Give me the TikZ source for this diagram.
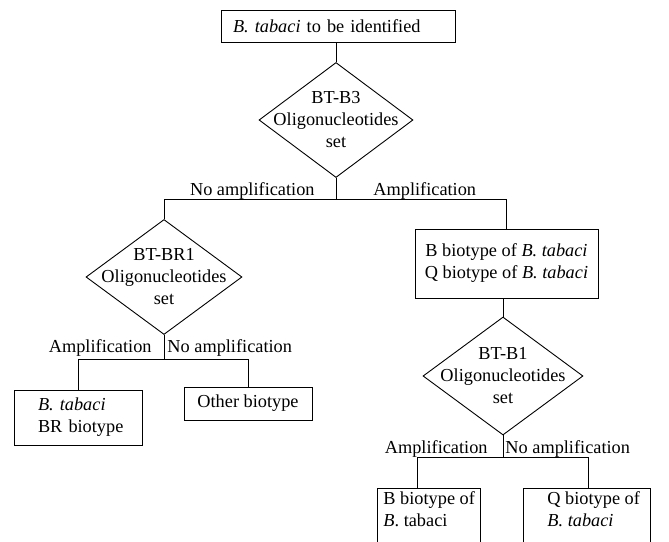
\documentclass[tikz,border=0pt]{standalone}
\usepackage{fontspec}
\setmainfont{Liberation Serif}
\usetikzlibrary{shapes.geometric}
\begin{document}
\begin{tikzpicture}[x=1pt,y=-1pt, line width=0.9pt,
  every node/.style={font=\fontsize{18.3}{22}\selectfont},
  box/.style={draw, rectangle, inner sep=0pt},
  dia/.style={draw, diamond, inner sep=-25pt, align=center},
  lab/.style={inner sep=0pt}]
\useasboundingbox (0,0) rectangle (669,541);
\clip (0,0) rectangle (669,541);

% nodes
\node[box, minimum width=234pt, minimum height=32pt, inner xsep=12pt, text width=210pt, align=left] (top) at (338,26) {\textit{B. tabaci} to be identified};
\node[dia, minimum width=154pt, minimum height=115pt] (d1) at (336,120) {BT-B3\\Oligonucleotides\\set};
\node[dia, minimum width=156pt, minimum height=115pt] (d2) at (164,277) {BT-BR1\\Oligonucleotides\\set};
\node[box, minimum width=183pt, minimum height=69pt, align=center] (bq) at (506.5,263.5) {B biotype of \textit{B. tabaci}\\Q biotype of \textit{B. tabaci}};
\node[dia, minimum width=160pt, minimum height=118pt] (d3) at (503,376) {BT-B1\\Oligonucleotides\\set};
\node[box, minimum width=128pt, minimum height=55pt, inner xsep=24pt, text width=80pt, align=left] (brb) at (78,417.5) {\textit{B. tabaci}\\\mbox{BR biotype}};
\node[box, minimum width=128pt, minimum height=33pt, align=center] (oth) at (248,403.5) {Other biotype};
\node[box, anchor=north west, minimum width=103pt, minimum height=90pt] (bl) at (377,488) {};
\node[lab, anchor=north west, align=left] (blt) at (383,491) {B biotype of\\\textit{B}. tabaci};
\node[box, anchor=north west, minimum width=127pt, minimum height=90pt] (br) at (523,488) {};
\node[lab, anchor=north west, align=left] (brt) at (547,491) {Q biotype of\\\textit{B. tabaci}};

% connectors
\draw (d1.north) -- (d1.north |- top.south);
\draw (d1.south) -- ++(0,21) coordinate (j1);
\draw (d2.north) |- (j1) -| (bq.north);
\draw (d3.north) -- (d3.north |- bq.south);
\draw (d2.south) -- ++(0,24) coordinate (j2);
\draw (brb.north) |- (j2) -| (oth.north);
\draw (d3.south) -- ++(0,22) coordinate (j3);
\draw ([xshift=-11.5pt]bl.north) |- (j3) -| ([xshift=1.5pt]br.north);

% labels
\node[lab, anchor=base east] (l1) at (315,195) {No amplification};
\node[lab, anchor=base west] (l2) at (373,195) {Amplification};
\node[lab, anchor=base east] (l3) at (152,352) {Amplification};
\node[lab, anchor=base west] (l4) at (167,352) {No amplification};
\node[lab, anchor=base east] (l5) at (488,453) {Amplification};
\node[lab, anchor=base west] (l6) at (505,453) {No amplification};
\end{tikzpicture}
\end{document}
